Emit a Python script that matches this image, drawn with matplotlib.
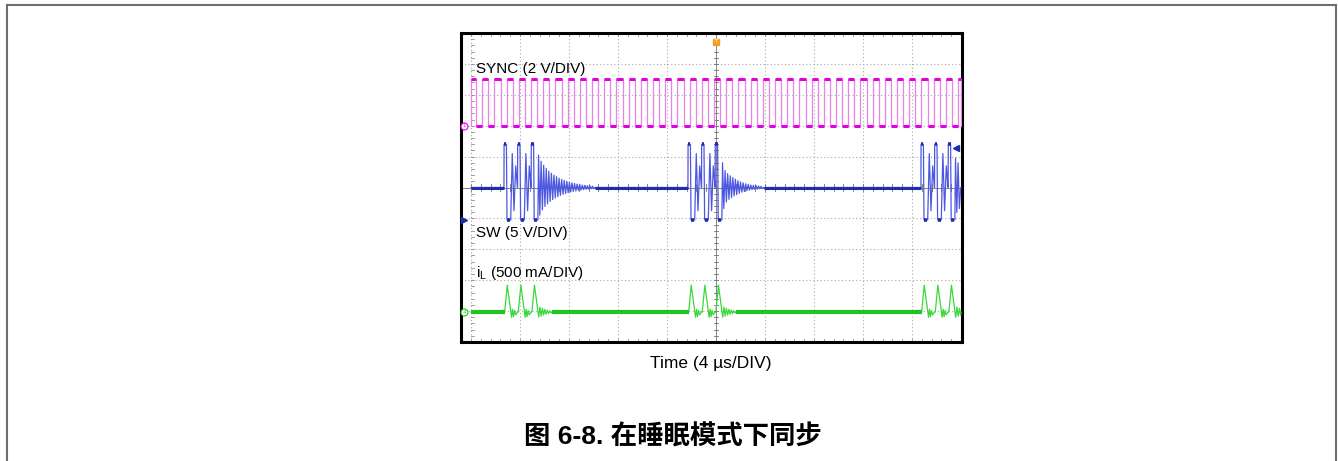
import numpy as np
import matplotlib.pyplot as plt
from matplotlib.lines import Line2D

# x axis: time in us (4 us/DIV, 10 DIV), y axis: screen divisions (0..10)

# SYNC clock
sync_first_rise = -0.08
sync_period = 0.996
sync_count = 41
sync_high = 8.5
sync_low = 7.0

# SW node, three pulses per burst
sw_burst_start = [2.69, 17.71, 36.73]
sw_pulse_gap = 1.11
sw_base = 5.0
sw_high = 6.4
sw_low = 3.95
sw_pulse_t = [0.0, 0.01, 0.20, 0.25, 0.55, 0.68, 0.82, 0.96, 1.10]
sw_pulse_v = [5.0, 6.4, 6.4, 3.95, 3.95, 6.1, 4.25, 5.7, 5.0]
sw_ring_half = 0.105
sw_ring_amp = [
    [1.05, 0.85, 0.72, 0.62, 0.53, 0.46, 0.40, 0.35, 0.30, 0.26, 0.23,
     0.20, 0.17, 0.15, 0.13, 0.11, 0.10, 0.08, 0.07, 0.06, 0.05, 0.04],
    [0.80, 0.55, 0.45, 0.38, 0.32, 0.27, 0.22, 0.18, 0.15, 0.12, 0.10,
     0.08, 0.07, 0.06, 0.05, 0.04],
    [0.95, 0.80],
]

# inductor current
il_base = 0.97
il_pulse_t = [0.0, 0.06, 0.27, 0.62, 0.70, 0.78, 0.86, 0.95, 1.10]
il_pulse_v = [0.97, 0.97, 1.84, 0.80, 1.06, 0.82, 1.02, 0.88, 0.97]
il_tail = [0.16, -0.13, 0.12, -0.10, 0.09, -0.07, 0.06, -0.05, 0.04, -0.03]
il_tail_step = 0.1

t_end = 40.0

MAG = '#e000e0'
MAG_L = '#e884e8'
BLUE = '#1e2cb0'
BLUE_L = '#4d58e0'
GREEN = '#22c422'
GREEN_L = '#3ad83a'


def flat(ax, y, x0, x1, color, lw):
    # horizontal segments at one level
    x0 = np.atleast_1d(np.asarray(x0, dtype=float))
    x1 = np.atleast_1d(np.asarray(x1, dtype=float))
    ax.hlines(np.full(len(x0), y), x0, x1, color=color, lw=lw, zorder=4)


fig = plt.figure(figsize=(13.38, 4.61), dpi=100)

# page border (left, top, right)
W, H = 1338.0, 461.0
for xs, ys in [([7, 7], [5, 461]), ([7, 1336], [5, 5]), ([1336, 1336], [5, 461])]:
    fig.add_artist(Line2D([x / W for x in xs], [1 - y / H for y in ys],
                          color='#6e6e6e', lw=1.5, transform=fig.transFigure))

ax = fig.add_axes([460.5 / W, 1 - 342 / H, (961.5 - 460.5) / W, (342 - 33) / H])
px_us = 12.25
ax.set_xlim((460.5 - 471) / px_us, (961.5 - 471) / px_us)
ax.set_ylim(0, 10)
ax.set_xticks([])
ax.set_yticks([])
for s in ax.spines.values():
    s.set_linewidth(2.2)
    s.set_color('black')

# graticule
dot = (0, (1, 2.2))
for k in range(0, 10):
    if k == 5:
        continue
    ax.axvline(k * 4, color='#a9a9a9', lw=0.8, ls=dot, zorder=1)
for k in range(1, 10):
    if k == 5:
        continue
    ax.axhline(k, color='#a9a9a9', lw=0.8, ls=dot, zorder=1)
ax.axvline(20, color='#707070', lw=0.6, zorder=1)
ax.axhline(5, color='#707070', lw=0.6, zorder=1)
for t in np.arange(0, 40.01, 0.8):
    ax.plot([t, t], [4.9, 5.1], color='#707070', lw=0.6, zorder=1)
    ax.plot([t, t], [9.9, 10], color='#909090', lw=0.6, zorder=1)
    ax.plot([t, t], [0, 0.1], color='#909090', lw=0.6, zorder=1)
for y in np.arange(0, 10.01, 0.2):
    ax.plot([19.85, 20.15], [y, y], color='#707070', lw=0.6, zorder=1)
    ax.plot([0, 0.25], [y, y], color='#909090', lw=0.6, zorder=1)

# SYNC trace
rises = sync_first_rise + sync_period * np.arange(sync_count)
falls = rises + sync_period / 2
st, sv = [], []
for r, f in zip(rises, falls):
    st += [r, r, f, f]
    sv += [sync_low, sync_high, sync_high, sync_low]
st = np.clip(st, 0, t_end)
ax.plot(st, sv, color=MAG_L, lw=0.9, zorder=3)
flat(ax, sync_high, np.clip(rises, 0, t_end), np.clip(falls, 0, t_end), MAG, 2.2)
flat(ax, sync_low, np.clip(falls[:-1], 0, t_end), np.clip(rises[1:], 0, t_end), MAG, 2.2)

# SW trace
swt, swv = [0.0], [sw_base]
ring_end = []
for b, start in enumerate(sw_burst_start):
    for k in range(3):
        p = start + k * sw_pulse_gap
        for dt, v in zip(sw_pulse_t, sw_pulse_v):
            if k == 2 and dt > 0.55:
                break
            swt.append(p + dt)
            swv.append(v)
    t0 = start + 2 * sw_pulse_gap + 0.55
    for j, a in enumerate(sw_ring_amp[b]):
        swt += [t0 + (2 * j + 0.5) * sw_ring_half, t0 + (2 * j + 1.5) * sw_ring_half]
        swv += [sw_base + a, sw_base - 0.85 * a]
    te = t0 + (2 * len(sw_ring_amp[b]) + 0.5) * sw_ring_half
    swt.append(te)
    swv.append(sw_base)
    ring_end.append(te)
swt.append(t_end)
swv.append(sw_base)
swt = np.array(swt)
swv = np.array(swv)
keep = swt <= t_end
ax.plot(swt[keep], swv[keep], color=BLUE_L, lw=0.9, zorder=3)
flat(ax, sw_base, [0.0] + ring_end[:-1], sw_burst_start, BLUE, 2.2)
for start in sw_burst_start:
    for k in range(3):
        p = start + k * sw_pulse_gap
        flat(ax, sw_high, p, min(p + 0.2, t_end), BLUE, 2.6)
        flat(ax, sw_low, p + 0.25, min(p + 0.5, t_end), BLUE, 2.6)

# inductor current trace
it, iv = [0.0], [il_base]
tail_end = []
for start in sw_burst_start:
    for k in range(3):
        p = start + k * sw_pulse_gap
        for dt, v in zip(il_pulse_t, il_pulse_v):
            if k == 2 and dt > 0.62:
                break
            it.append(p + dt)
            iv.append(v)
    t0 = start + 2 * sw_pulse_gap + 0.62
    for j, d in enumerate(il_tail):
        it.append(t0 + (j + 1) * il_tail_step)
        iv.append(il_base + d)
    tail_end.append(t0 + (len(il_tail) + 1) * il_tail_step)
    it.append(tail_end[-1])
    iv.append(il_base)
it.append(t_end)
iv.append(il_base)
it = np.array(it)
iv = np.array(iv)
keep = it <= t_end
ax.plot(it[keep], iv[keep], color=GREEN_L, lw=0.9, zorder=3)
flat(ax, il_base, [0.0] + tail_end[:-1], [s + 0.06 for s in sw_burst_start], GREEN, 3.0)
flat(ax, il_base, min(tail_end[-1], t_end), t_end, GREEN, 3.0)

# channel markers
ax.plot(-0.55, sync_low, marker='o', ms=5, mfc='white', mec=MAG, mew=0.8, zorder=6, clip_on=False)
ax.text(-0.55, sync_low, '1', fontsize=4, color=MAG, ha='center', va='center', zorder=7)
ax.plot(-0.55, sw_low, marker='>', ms=5, color=BLUE, zorder=6, clip_on=False)
ax.plot(-0.55, il_base, marker='o', ms=5, mfc='white', mec=GREEN, mew=0.8, zorder=6, clip_on=False)
ax.text(-0.55, il_base, '4', fontsize=4, color=GREEN, ha='center', va='center', zorder=7)
ax.plot(20, 9.72, marker='s', ms=5, color='#f0a020', zorder=6)
ax.text(20, 9.72, 'T', fontsize=4, color='white', ha='center', va='center', zorder=7)
ax.plot(39.6, 6.27, marker='<', ms=4, color=BLUE, zorder=6)

# channel labels
lab = dict(fontsize=11, family='Liberation Sans', color='black', va='baseline', zorder=8)
ax.text(0.38, 8.71, 'SYNC (2 V/DIV)', **lab)
ax.text(0.38, 3.41, 'SW (5 V/DIV)', **lab)
ax.text(0.38, 2.11, r'i$_\mathregular{L}$ (500 mA/DIV)', **lab)

fig.text(711 / W, 1 - 368 / H, 'Time (4 µs/DIV)', fontsize=12.5, family='Liberation Sans',
         ha='center', va='baseline')
fig.text(673 / W, 1 - 436.7 / H, '图 6-8. 在睡眠模式下同步', fontsize=19, fontweight='bold',
         family=['Liberation Sans', 'Noto Sans CJK SC'], ha='center', va='center')

fig.savefig('out.png', dpi=100)
